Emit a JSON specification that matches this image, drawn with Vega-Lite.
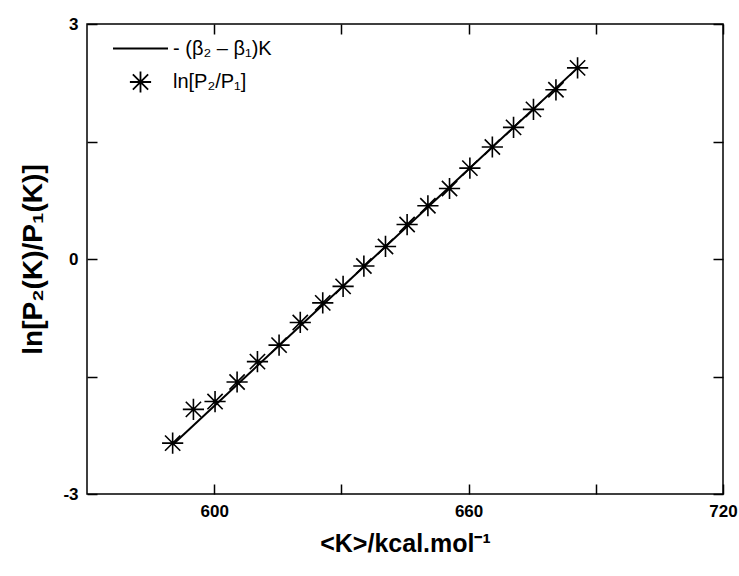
{
  "$schema": "https://vega.github.io/schema/vega-lite/v6.json",
  "width": 636,
  "height": 470,
  "autosize": {"type": "none"},
  "padding": {"left": 87, "top": 24, "right": 16, "bottom": 82},
  "background": "white",
  "config": {
    "font": "Liberation Sans",
    "view": {"stroke": "black", "strokeWidth": 1.5},
    "axis": {"grid": false, "domain": false, "tickColor": "black", "tickWidth": 1.5, "labelColor": "black", "titleColor": "black"}
  },
  "datasets": {
    "fit": [
      {"K": 590.2, "lnratio": -2.37},
      {"K": 685.7, "lnratio": 2.44}
    ],
    "pts": [
      {"K": 590.2, "lnratio": -2.35, "series": "ln[P₂/P₁]"},
      {"K": 595.1, "lnratio": -1.92, "series": "ln[P₂/P₁]"},
      {"K": 600.2, "lnratio": -1.82, "series": "ln[P₂/P₁]"},
      {"K": 605.4, "lnratio": -1.57, "series": "ln[P₂/P₁]"},
      {"K": 610.2, "lnratio": -1.31, "series": "ln[P₂/P₁]"},
      {"K": 615.3, "lnratio": -1.10, "series": "ln[P₂/P₁]"},
      {"K": 620.3, "lnratio": -0.81, "series": "ln[P₂/P₁]"},
      {"K": 625.6, "lnratio": -0.56, "series": "ln[P₂/P₁]"},
      {"K": 630.4, "lnratio": -0.35, "series": "ln[P₂/P₁]"},
      {"K": 635.3, "lnratio": -0.09, "series": "ln[P₂/P₁]"},
      {"K": 640.4, "lnratio": 0.16, "series": "ln[P₂/P₁]"},
      {"K": 645.5, "lnratio": 0.44, "series": "ln[P₂/P₁]"},
      {"K": 650.4, "lnratio": 0.68, "series": "ln[P₂/P₁]"},
      {"K": 655.5, "lnratio": 0.90, "series": "ln[P₂/P₁]"},
      {"K": 660.3, "lnratio": 1.16, "series": "ln[P₂/P₁]"},
      {"K": 665.6, "lnratio": 1.43, "series": "ln[P₂/P₁]"},
      {"K": 670.6, "lnratio": 1.68, "series": "ln[P₂/P₁]"},
      {"K": 675.3, "lnratio": 1.91, "series": "ln[P₂/P₁]"},
      {"K": 680.6, "lnratio": 2.16, "series": "ln[P₂/P₁]"},
      {"K": 685.7, "lnratio": 2.44, "series": "ln[P₂/P₁]"}
    ]
  },
  "resolve": {"axis": {"x": "independent", "y": "independent"}},
  "layer": [
    {
      "data": {"name": "fit"},
      "mark": {"type": "line", "color": "black", "strokeWidth": 2},
      "encoding": {
        "x": {
          "field": "K", "type": "quantitative",
          "scale": {"domain": [570, 720], "nice": false, "zero": false},
          "axis": {
            "orient": "bottom",
            "values": [600, 630, 660, 690, 720],
            "labelExpr": "datum.value % 60 === 0 ? '' + datum.value : ''",
            "labelFlush": false,
            "labelFont": "Liberation Sans", "labelFontWeight": "bold", "labelFontSize": 17,
            "tickSize": -10,
            "labelPadding": 19,
            "encode": {"ticks": {"update": {"y2": {"signal": "datum.value % 60 === 0 ? -10 : -5"}}}},
            "title": "<K>/kcal.mol⁻¹",
            "titleFont": "Liberation Sans", "titleFontWeight": "bold", "titleFontSize": 25,
            "titlePadding": 12
          }
        },
        "y": {
          "field": "lnratio", "type": "quantitative",
          "scale": {"domain": [-3, 3], "nice": false, "zero": false},
          "axis": {
            "orient": "left",
            "values": [-3, -1.5, 0, 1.5, 3],
            "labelExpr": "datum.value % 3 === 0 ? '' + datum.value : ''",
            "labelFlush": false,
            "labelFont": "Liberation Sans", "labelFontWeight": "bold", "labelFontSize": 17,
            "tickSize": -10,
            "labelPadding": 19,
            "encode": {"ticks": {"update": {"x2": {"signal": "datum.value % 3 === 0 ? 10 : 5"}}}},
            "title": "ln[P₂(K)/P₁(K)]",
            "titleFont": "Liberation Sans", "titleFontWeight": "bold", "titleFontSize": 28,
            "titlePadding": 15
          }
        }
      }
    },
    {
      "data": {"name": "pts"},
      "mark": {"type": "point", "filled": false, "color": "black", "strokeWidth": 1.6, "opacity": 1},
      "encoding": {
        "x": {
          "field": "K", "type": "quantitative",
          "scale": {"domain": [570, 720], "nice": false, "zero": false},
          "axis": {
            "orient": "top",
            "values": [600, 630, 660, 690, 720],
            "labels": false,
            "tickSize": -10,
            "encode": {"ticks": {"update": {"y2": {"signal": "datum.value % 60 === 0 ? 10 : 5"}}}},
            "title": null
          }
        },
        "y": {
          "field": "lnratio", "type": "quantitative",
          "scale": {"domain": [-3, 3], "nice": false, "zero": false},
          "axis": {
            "orient": "right",
            "values": [-3, -1.5, 0, 1.5, 3],
            "labels": false,
            "tickSize": -10,
            "encode": {"ticks": {"update": {"x2": {"signal": "datum.value % 3 === 0 ? -10 : -5"}}}},
            "title": null
          }
        },
        "shape": {
          "field": "series", "type": "nominal",
          "scale": {
            "domain": ["- (β₂ – β₁)K", "ln[P₂/P₁]"],
            "range": ["M-1,0L1,0", "M0,-1L0,1M-1,0L1,0M-0.72,-0.72L0.72,0.72M-0.72,0.72L0.72,-0.72"]
          },
          "legend": {
            "title": null,
            "orient": "none",
            "legendX": 25,
            "legendY": -4,
            "padding": 0,
            "labelFont": "Liberation Sans", "labelFontSize": 20, "labelColor": "black",
            "symbolStrokeColor": "black", "symbolFillColor": "transparent", "symbolStrokeWidth": 1.8,
            "rowPadding": 8
          }
        },
        "size": {
          "field": "series", "type": "ordinal",
          "scale": {"domain": ["- (β₂ – β₁)K", "ln[P₂/P₁]"], "range": [3025, 450]},
          "legend": {
            "title": null,
            "orient": "none",
            "legendX": 25,
            "legendY": -4,
            "padding": 0,
            "labelFont": "Liberation Sans", "labelFontSize": 20, "labelColor": "black",
            "symbolStrokeColor": "black", "symbolFillColor": "transparent", "symbolStrokeWidth": 1.8,
            "rowPadding": 8
          }
        }
      }
    }
  ]
}
